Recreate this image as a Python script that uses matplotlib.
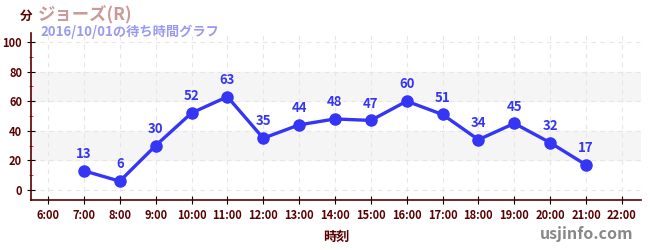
import matplotlib.pyplot as plt
from matplotlib.ticker import MultipleLocator

plt.rcParams['font.family'] = ['Noto Sans CJK JP', 'DejaVu Sans']

hours = [7, 8, 9, 10, 11, 12, 13, 14, 15, 16, 17, 18, 19, 20, 21]
waits = [13, 6, 30, 52, 63, 35, 44, 48, 47, 60, 51, 34, 45, 32, 17]
tick_hours = list(range(6, 23))
tick_labels = [f"{h}:00" for h in tick_hours]

dark = '#5a0000'
blue = '#3535f5'

fig = plt.figure(figsize=(6.5, 2.5), dpi=100)
ax = fig.add_axes([0.048, 0.2, 0.938, 0.668])

# light bands
for lo, hi in [(20, 40), (60, 80)]:
    ax.axhspan(lo, hi, color='#f5f5f5', zorder=0)

ax.plot(hours, waits, color=blue, lw=2.4, marker='o', ms=8, zorder=3)
for h, w in zip(hours, waits):
    ax.annotate(str(w), (h, w), xytext=(0, 7), textcoords='offset points',
                ha='center', va='bottom', color=blue, fontsize=9.5,
                fontweight='bold')

ax.set_xlim(5.53, 22.53)
ax.set_ylim(-6.7, 106)
ax.set_xticks(tick_hours)
ax.set_xticklabels(tick_labels)
ax.set_yticks(range(0, 101, 20))
ax.yaxis.set_minor_locator(MultipleLocator(10))
ax.tick_params(axis='y', which='minor', length=3, color='red', direction='inout')
ax.tick_params(axis='both', which='major', labelsize=8, labelcolor=dark,
               color='black', direction='inout', length=6)
for lbl in ax.get_xticklabels() + ax.get_yticklabels():
    lbl.set_fontweight('bold')

ax.grid(True, which='major', ls=(0, (4, 4)), color='#e6e6e6', lw=0.8)
ax.set_axisbelow(True)
for s in ['top', 'right']:
    ax.spines[s].set_visible(False)
for s in ['left', 'bottom']:
    ax.spines[s].set_color(dark)
    ax.spines[s].set_linewidth(1.2)

ax.set_xlabel('時刻', color=dark, fontsize=9.5, fontweight='bold', labelpad=6)

fig.text(0.03, 0.935, '分', color=dark, fontsize=9, fontweight='bold', va='center')
fig.text(0.058, 0.942, 'ジョーズ(R)', color='#c99a9a', fontsize=12.5,
         fontweight='bold', va='center')
fig.text(0.062, 0.872, '2016/10/01の待ち時間グラフ', color='#9a9af0',
         fontsize=9.5, fontweight='bold', va='center')
fig.text(0.975, 0.065, 'usjinfo.com', color='#888888', fontsize=11.5,
         fontweight='bold', ha='right', va='center')

fig.savefig('out.png', dpi=100)
